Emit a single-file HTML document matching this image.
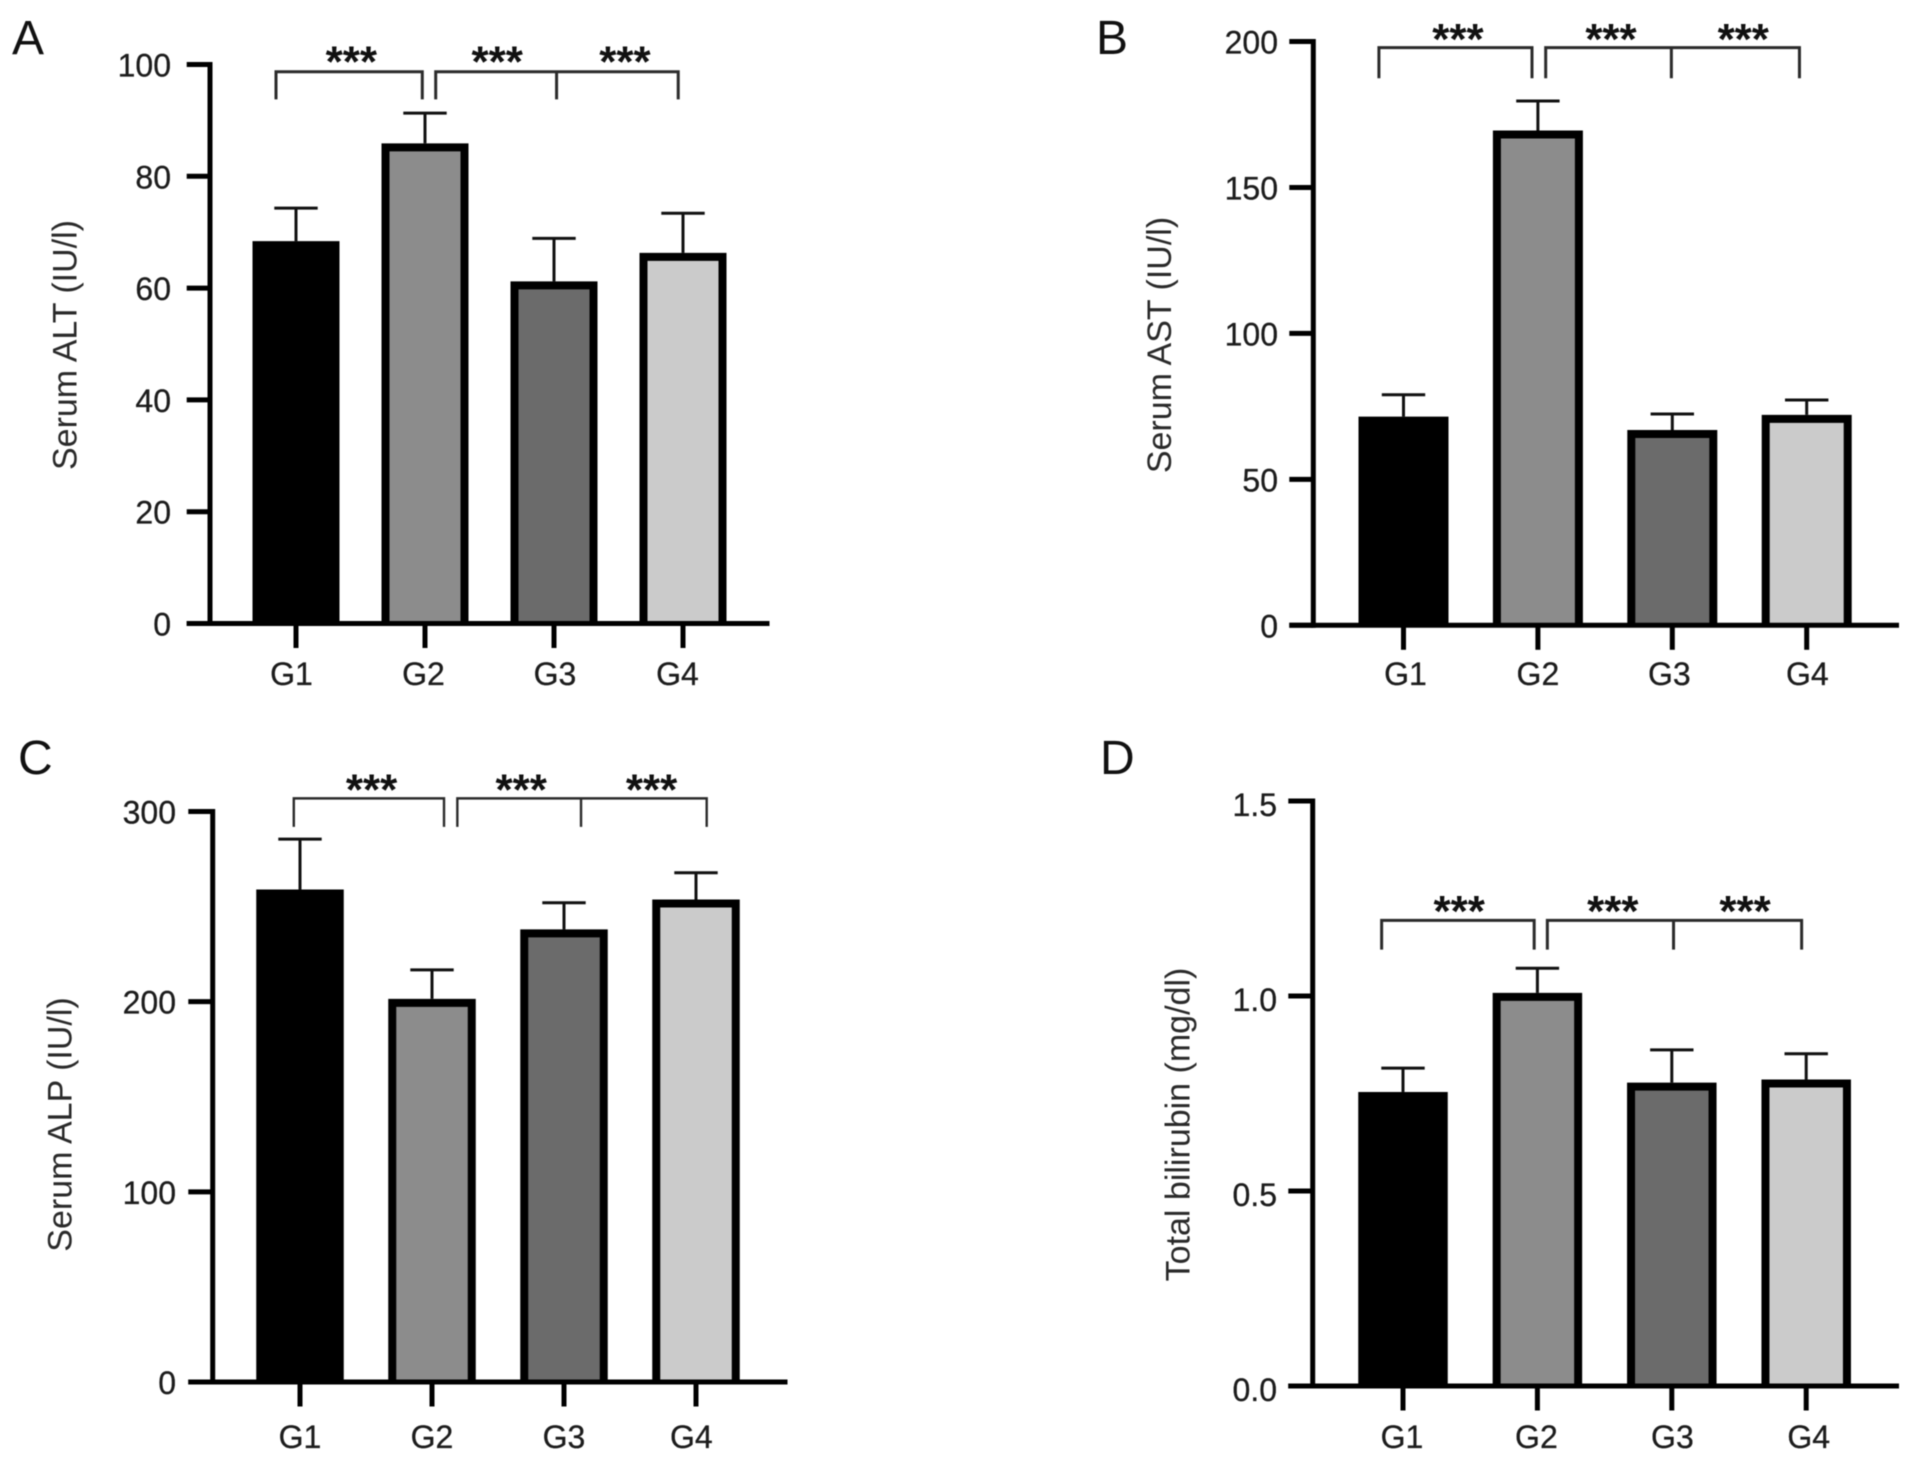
<!DOCTYPE html>
<html lang="en">
<head>
<meta charset="utf-8">
<title>Serum markers by group</title>
<style>
html,body{margin:0;padding:0;background:#fff;width:1913px;height:1462px;overflow:hidden}
svg{display:block;filter:blur(0.5px)}
text{font-family:"Liberation Sans",Arial,sans-serif;fill:#1c1c1c;stroke:#1c1c1c;stroke-width:0.3px}
</style>
</head>
<body>
<svg id="figure" xmlns="http://www.w3.org/2000/svg" width="1913" height="1462" viewBox="0 0 1913 1462"></svg>
<script>
const categories = ['G1', 'G2', 'G3', 'G4'];
const barColors = ['#000000', '#8c8c8c', '#6b6b6b', '#cbcbcb'];

const altMeans = [68.4, 85.9, 61.2, 66.3];
const altErrors = [5.9, 5.4, 7.7, 7.1];
const altTicks = ['0', '20', '40', '60', '80', '100'];

const astMeans = [71.5, 169.5, 66.9, 72.1];
const astErrors = [7.5, 10.1, 5.5, 5.1];
const astTicks = ['0', '50', '100', '150', '200'];

const alpMeans = [259, 201.5, 238, 253.7];
const alpErrors = [26.5, 15.2, 14, 14.1];
const alpTicks = ['0', '100', '200', '300'];

const bilMeans = [0.754, 1.008, 0.778, 0.786];
const bilErrors = [0.061, 0.063, 0.084, 0.066];
const bilTicks = ['0.0', '0.5', '1.0', '1.5'];

const panels = [
  {id:'a', letter:'A', letterX:12, letterY:54, title:'Serum ALT (IU/l)', titleX:65.5, titleY:345,
   means:altMeans, errors:altErrors, ticks:altTicks,
   axisX:210, base:623.5, top:64.5, max:100, left:186.7, right:769.5, x0:296, step:129, barW:87, sw:8,
   labelRight:171, labelBase:685, tickDy:12, nudge:[-4.5,-1.5,1,-5.5],
   br:{level:98.7, drop:93.77, star:101.6, a:[-0.155,0.979], b:[1.083,2.02,2.963], stars:[0.429,1.56,2.55], w:3}},
  {id:'b', letter:'B', letterX:1096, letterY:54, title:'Serum AST (IU/l)', titleX:1160, titleY:345,
   means:astMeans, errors:astErrors, ticks:astTicks,
   axisX:1313.3, base:625.3, top:41.5, max:200, left:1289.3, right:1899, x0:1403.5, step:134.4, barW:90, sw:8,
   labelRight:1278, labelBase:685, tickDy:12, nudge:[2,0,-3,0.6],
   br:{level:197.9, drop:187.4, star:202.9, a:[-0.183,0.956], b:[1.058,1.993,2.946], stars:[0.405,1.544,2.528], w:3}},
  {id:'c', letter:'C', letterX:18, letterY:774, title:'Serum ALP (IU/l)', titleX:60.5, titleY:1124.5,
   means:alpMeans, errors:alpErrors, ticks:alpTicks,
   axisX:212.7, base:1382, top:811.5, max:300, left:188.3, right:787.5, x0:300, step:132, barW:87.5, sw:8,
   labelRight:176, labelBase:1448, tickDy:12, nudge:[0,0,0,-4.7],
   br:{level:306.9, drop:291.9, star:314.6, a:[-0.047,1.091], b:[1.192,2.129,3.081], stars:[0.542,1.676,2.663], w:2.4}},
  {id:'d', letter:'D', letterX:1100, letterY:774, title:'Total bilirubin (mg/dl)', titleX:1178.5, titleY:1124.5,
   means:bilMeans, errors:bilErrors, ticks:bilTicks,
   axisX:1312.7, base:1386, top:801, max:1.5, left:1288.3, right:1899, x0:1403, step:134.4, barW:89.5, sw:8,
   labelRight:1277, labelBase:1448, tickDy:15, nudge:[-1,-1,0.6,2.5],
   br:{level:1.194, drop:1.119, star:1.233, a:[-0.159,0.976], b:[1.074,2.013,2.966], stars:[0.418,1.561,2.545], w:3}}
];

const SVGNS = 'http://www.w3.org/2000/svg';
const figure = document.getElementById('figure');

function make(tag, attrs, parent, content) {
  const node = document.createElementNS(SVGNS, tag);
  for (const key in attrs) node.setAttribute(key, attrs[key]);
  if (content !== undefined) node.textContent = content;
  parent.appendChild(node);
  return node;
}

panels.forEach(function (p) {
  const xScale = function (i) { return p.x0 + i * p.step; };
  const yScale = function (v) { return p.base - (v / p.max) * (p.base - p.top); };

  const g = make('g', {}, figure);
  
  

  const letter = make('text', {x: p.letterX, y: p.letterY, 'font-size': 48, style: 'fill:#111;stroke:none'}, g, p.letter);
  
  

  const title = make('text', {x: p.titleX, y: p.titleY, 'font-size': 34, 'text-anchor': 'middle', transform: 'rotate(-90 ' + p.titleX + ' ' + p.titleY + ')', 'dominant-baseline': 'central', style: 'fill:#2a2a2a;stroke:none'}, g, p.title);
  
  

  // bars and error bars
  p.means.forEach(function (m, i) {
    const cx = xScale(i);
    const topY = yScale(m);
    const upY = yScale(m + p.errors[i]);
    const half = p.sw / 2;
    const l = cx - p.barW / 2 + half;
    const r = cx + p.barW / 2 - half;

    const stem = make('line', {x1: cx, x2: cx, y1: topY, y2: upY, stroke: '#111', 'stroke-width': 3}, g);
    
    

    const cap = make('line', {x1: cx - 21.7, x2: cx + 21.7, y1: upY, y2: upY, stroke: '#111', 'stroke-width': 3}, g);
    
    

    const bar = make('path', {d: 'M' + l + ' ' + p.base + 'V' + (topY + half) + 'H' + r + 'V' + p.base, fill: barColors[i], stroke: '#000', 'stroke-width': p.sw}, g);
    
    
  });

  // y axis
  const yAxis = make('line', {x1: p.axisX, x2: p.axisX, y1: yScale(p.max) - 2.5, y2: p.base + 2.5, stroke: '#000', 'stroke-width': 5}, g);
  
  

  p.ticks.forEach(function (label) {
    const y = yScale(parseFloat(label));
    const tick = make('line', {x1: p.left, x2: p.axisX, y1: y, y2: y, stroke: '#000', 'stroke-width': 5}, g);
    
    

    const tickLabel = make('text', {x: p.labelRight, y: y + p.tickDy, 'font-size': 32, 'text-anchor': 'end'}, g, label);
    
    
  });

  // x axis
  const xAxis = make('line', {x1: p.left, x2: p.right, y1: p.base, y2: p.base, stroke: '#000', 'stroke-width': 5}, g);
  
  

  categories.forEach(function (cat, i) {
    const cx = xScale(i);
    const tick = make('line', {x1: cx, x2: cx, y1: p.base, y2: p.base + 24.5, stroke: '#000', 'stroke-width': 5}, g);
    
    

    const catLabel = make('text', {x: cx + p.nudge[i], y: p.labelBase, 'font-size': 32, 'text-anchor': 'middle'}, g, cat);
    
    
  });

  // significance brackets
  const b = p.br;
  const lvl = yScale(b.level);
  const drop = yScale(b.drop);
  const bs = {fill: 'none', stroke: '#2b2b2b', 'stroke-width': b.w};

  const left = make('path', Object.assign({d: 'M' + xScale(b.a[0]) + ' ' + drop + 'V' + lvl + 'H' + xScale(b.a[1]) + 'V' + drop}, bs), g);
  
  

  const right = make('path', Object.assign({d: 'M' + xScale(b.b[0]) + ' ' + drop + 'V' + lvl + 'H' + xScale(b.b[2]) + 'V' + drop + 'M' + xScale(b.b[1]) + ' ' + lvl + 'V' + drop}, bs), g);
  
  

  b.stars.forEach(function (pos) {
    const star = make('text', {x: xScale(pos), y: yScale(b.star) + 21, 'font-size': 44, 'font-weight': 'bold', 'text-anchor': 'middle', style: 'fill:#111;stroke:none'}, g, '***');
    
    
  });
});
</script>
</body>
</html>
